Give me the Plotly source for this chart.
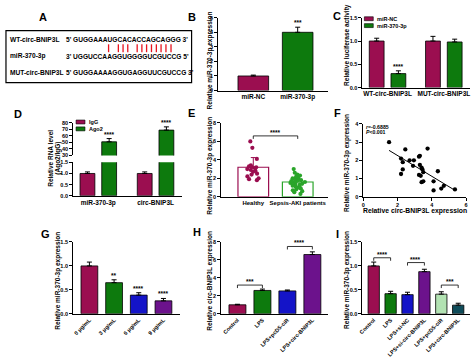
import numpy as np
import plotly.graph_objects as go

W, H = 474, 363
def X(px): return px / W
def Y(py): return 1 - py / H

FONT = "Liberation Sans, Arial, sans-serif"
MAROON = "#9b0e50"
GREEN = "#0d7a0d"
BLUE = "#1414c8"
PURPLE = "#6c128c"
LGREEN = "#b2e2b2"
TEAL = "#0f4c5a"
EGREEN = "#2aa52a"

# ---------------- data ----------------
A_labels = ["WT-circ-BNIP3L", "miR-370-3p", "MUT-circ-BNIP3L"]
A_seqs = ["5' GUGGAAAUGCACACCAGCAGGG 3'",
          "3' UGGUCCAAGGUGGGGUCGUCCG 5'",
          "5' GUGGAAAAGGUGAGGUUCGUCCG 3'"]
A_pairs = [8, 10, 11, 12, 14, 15, 16, 17, 18, 19, 20, 21]

B_cats = ["miR-NC", "miR-370-3p"]
B_vals = [1.0, 4.0]
B_err = [0.06, 0.35]
B_stars = ["", "***"]

C_groups = ["WT-circ-BNIP3L", "MUT-circ-BNIP3L"]
C_nc = [1.0, 1.0]
C_nc_err = [0.06, 0.1]
C_mir = [0.3, 0.98]
C_mir_err = [0.06, 0.06]
C_stars = ["****", ""]

D_groups = ["miR-370-3p", "circ-BNIP3L"]
D_igg = [1.0, 1.0]
D_igg_err = [0.07, 0.07]
D_ago2 = [51, 69]
D_ago2_err = [5, 5]
D_stars = ["****", "****"]

E_cats = ["Healthy", "Sepsis-AKI patients"]
E_means = [3.2, 1.6]
E_sd = [1.05, 0.55]
E_healthy = [6.0, 5.3, 4.1, 3.4, 3.3, 3.2, 3.2, 3.1, 3.0, 2.9, 2.8, 2.7, 2.5, 2.4, 2.2, 2.0, 1.9, 1.8]
E_sepsis = [3.0, 2.6, 2.4, 2.3, 2.2, 2.1, 2.0, 2.0, 1.9, 1.8, 1.8, 1.7, 1.7, 1.6, 1.6,
            1.5, 1.5, 1.4, 1.4, 1.3, 1.2, 1.1, 1.0, 1.0, 0.9, 0.8, 0.7, 0.6, 0.5, 0.3]

F_x = [1.5, 2.45, 3.75, 2.2, 2.3, 2.7, 2.95, 3.25, 3.3, 2.9, 3.3, 3.4, 3.45, 2.3, 2.2,
       3.25, 3.35, 3.5, 4.35, 3.5, 3.4, 4.1, 4.55, 4.7, 4.1, 5.35]
F_y = [3.0, 2.6, 2.65, 2.1, 1.9, 2.0, 2.0, 2.2, 2.25, 1.7, 1.75, 1.6, 1.5, 1.5, 1.25,
       1.2, 1.15, 1.35, 1.4, 0.85, 0.8, 0.85, 0.45, 0.6, 0.35, 0.4]
F_r = "-0.6885"
F_p = "0.001"

G_cats = ["0 μg/mL", "3 μg/mL", "6 μg/mL", "9 μg/mL"]
G_vals = [1.0, 0.65, 0.39, 0.27]
G_err = [0.08, 0.06, 0.05, 0.05]
G_stars = ["", "**", "****", "****"]

H_cats = ["Control", "LPS", "LPS+pcD5-ciR", "LPS+circ-BNIP3L"]
H_vals = [1.0, 2.6, 2.55, 6.6]
H_err = [0.06, 0.15, 0.1, 0.3]
H_brackets = [(0, 1, "***", 3.2), (2, 3, "****", 7.5)]

I_cats = ["Control", "LPS", "LPS+si-NC", "LPS+si-circ-BNIP3L", "LPS+pcD5-ciR", "LPS+circ-BNIP3L"]
I_vals = [1.0, 0.42, 0.40, 0.88, 0.41, 0.18]
I_err = [0.08, 0.05, 0.05, 0.05, 0.05, 0.04]
I_brackets = [(0, 1, "****", 1.17), (2, 3, "****", 1.07), (4, 5, "***", 0.6)]

# ---------------- helpers ----------------
fig = go.Figure()
annotations = []
shapes = []
layout = {}

TICKF = dict(family=FONT, size=5.5, color="black", weight="bold")
AX = dict(showline=True, linecolor="black", linewidth=1, showgrid=False,
          zeroline=False, fixedrange=True, tickcolor="black")
LINE = dict(color="black", width=0.8)


def yaxis(top, bot, rng, dtick, fmt, anchor):
    return dict(domain=[Y(bot), Y(top)], range=rng, dtick=dtick, tick0=0,
                tickformat=fmt, anchor=anchor, ticks="outside", ticklen=3,
                tickwidth=1, tickfont=TICKF, **AX)


def xcat(left, right, rng, anchor, size=7, angle=0):
    return dict(domain=[X(left), X(right)], range=rng, type="category",
                anchor=anchor, ticks="", tickangle=angle,
                tickfont=dict(family=FONT, size=size, color="black", weight="bold"), **AX)


def err(arr, color="black"):
    return dict(type="data", array=arr, arrayminus=[0] * len(arr), symmetric=False,
                color=color, thickness=1, width=2.5)


def text(x, y, t, size=6.5, xref="paper", yref="paper", xanchor="center",
         yanchor="middle", angle=0, color="black", yshift=0):
    annotations.append(dict(x=x, y=y, text=t, xref=xref, yref=yref, showarrow=False,
                            xanchor=xanchor, yanchor=yanchor, textangle=angle,
                            yshift=yshift, borderpad=0,
                            font=dict(family=FONT, size=size, color=color, weight="bold")))


def ylabel(px, py, t, size=6.5):
    text(X(px), Y(py), t, size=size, angle=-90)


def letter(px, py, t):
    text(X(px), Y(py), t, size=11)


def bracket(xr, yr, a, b, level, label, drop=3):
    shapes.append(dict(type="line", xref=xr, yref=yr, x0=a, x1=b, y0=level, y1=level,
                       line=dict(color="black", width=0.8)))
    for p in (a, b):
        shapes.append(dict(type="line", xref=xr, yref=yr, x0=p, x1=p, ysizemode="pixel",
                           yanchor=level, y0=0, y1=-drop, line=dict(color="black", width=0.8)))
    text((a + b) / 2, level, label, size=6.5, xref=xr, yref=yr, yanchor="bottom", yshift=-1)


# ---------------- Panel A ----------------
letter(40, 14, "A")
shapes.append(dict(type="rect", xref="paper", yref="paper", x0=X(2), x1=X(190),
                   y0=Y(81), y1=Y(28), line=dict(color="black", width=1.2)))
A_fs = 6.6
A_rows = [37, 54, 71]
for lab, seq, ry in zip(A_labels, A_seqs, A_rows):
    text(X(5), Y(ry), lab, size=A_fs, xanchor="left")
    text(X(62), Y(ry), seq, size=A_fs, xanchor="left")
CW = {"A": 0.722, "C": 0.722, "G": 0.778, "U": 0.722, "'": 0.238, "5": 0.556, "3": 0.556, " ": 0.278}
s1 = A_seqs[0]
for pos in A_pairs:
    k = 3 + pos - 1
    cx = 62 + A_fs * (sum(CW[c] for c in s1[:k]) + CW[s1[k]] / 2)
    shapes.append(dict(type="line", xref="paper", yref="paper", x0=X(cx), x1=X(cx),
                       y0=Y(50), y1=Y(42), line=dict(color="#e8141e", width=1.3)))

# ---------------- Panel B ----------------
letter(190, 14, "B")
fig.add_trace(go.Bar(x=B_cats, y=B_vals, width=0.69, error_y=err(B_err),
                     marker=dict(color=[MAROON, GREEN], line=LINE), xaxis="x", yaxis="y"))
layout["xaxis"] = xcat(217, 328, [-0.79, 1.68], "y", size=6.5)
layout["yaxis"] = yaxis(15, 89, [0, 5], 1, "d", "x")
for c, v, e, s in zip(B_cats, B_vals, B_err, B_stars):
    if s:
        text(c, v + e, s, xref="x", yref="y", yanchor="bottom")
ylabel(209, 58, "Relative miR-370-3p expression")

# ---------------- Panel C ----------------
letter(337, 13, "C")
C_w, C_off = 0.263, [-0.325, 0.061]
fig.add_trace(go.Bar(x=C_groups, y=C_nc, width=C_w, offset=C_off[0], error_y=err(C_nc_err),
                     marker=dict(color=MAROON, line=LINE), xaxis="x2", yaxis="y2"))
fig.add_trace(go.Bar(x=C_groups, y=C_mir, width=C_w, offset=C_off[1], error_y=err(C_mir_err),
                     marker=dict(color=GREEN, line=LINE), xaxis="x2", yaxis="y2"))
layout["xaxis2"] = xcat(363, 472, [-0.447, 1.465], "y2", size=6.5)
layout["yaxis2"] = yaxis(15, 86, [0, 1.5], 0.5, ".1f", "x2")
for i, (v, e, s) in enumerate(zip(C_mir, C_mir_err, C_stars)):
    if s:
        text(i + C_off[1] + C_w / 2, v + e, s, xref="x2", yref="y2", yanchor="bottom")
ylabel(348, 43, "Relative luciferase activity")
for (lab, col), ly in zip([("miR-NC", MAROON), ("miR-370-3p", GREEN)], [16, 23]):
    shapes.append(dict(type="rect", xref="paper", yref="paper", x0=X(365), x1=X(374),
                       y0=Y(ly + 2), y1=Y(ly - 2), fillcolor=col, line=dict(color="black", width=0.6)))
    text(X(377), Y(ly), lab, size=5.5, xanchor="left")

# ---------------- Panel D (broken axis) ----------------
letter(14, 113, "D")
D_w, D_off = 0.259, [-0.319, 0.060]
for xa, ya in (("x3", "y3"), ("x4", "y4")):
    fig.add_trace(go.Bar(x=D_groups, y=D_igg, width=D_w, offset=D_off[0], error_y=err(D_igg_err),
                         marker=dict(color=MAROON, line=LINE), xaxis=xa, yaxis=ya))
    fig.add_trace(go.Bar(x=D_groups, y=D_ago2, width=D_w, offset=D_off[1], error_y=err(D_ago2_err),
                         marker=dict(color=GREEN, line=LINE), xaxis=xa, yaxis=ya))
layout["xaxis3"] = xcat(70, 180, [-0.44, 1.457], "y3", size=6.5)
layout["yaxis3"] = yaxis(162, 196, [0, 1.5], 0.5, ".1f", "x3")
x4 = xcat(70, 180, [-0.44, 1.457], "y4")
x4.update(showline=False, showticklabels=False)
layout["xaxis4"] = x4
layout["yaxis4"] = yaxis(122, 155, [30, 80], 10, "d", "x4")
for i, (v, e, s) in enumerate(zip(D_ago2, D_ago2_err, D_stars)):
    text(i + D_off[1] + D_w / 2, v + e, s, xref="x4", yref="y4", yanchor="bottom")
text(X(47), Y(158), "Relative RNA level", size=6.5, angle=-90)
text(X(55), Y(158), "(Ago2/IgG)", size=6.5, angle=-90)
for (lab, col), ly in zip([("IgG", MAROON), ("Ago2", GREEN)], [121, 128]):
    shapes.append(dict(type="rect", xref="paper", yref="paper", x0=X(73), x1=X(82),
                       y0=Y(ly + 2), y1=Y(ly - 2), fillcolor=col, line=dict(color="black", width=0.6)))
    text(X(85), Y(ly), lab, size=5.5, xanchor="left")

# ---------------- Panel E ----------------
letter(190, 112, "E")
for c, m, s, col in zip(E_cats, E_means, E_sd, [MAROON, EGREEN]):
    fig.add_trace(go.Bar(x=[c], y=[m], width=0.69, error_y=err([s], col),
                         marker=dict(color="rgba(255,255,255,0)", line=dict(color=col, width=1.2)),
                         xaxis="x5", yaxis="y5"))
for c, vals, col in zip(E_cats, [E_healthy, E_sepsis], [MAROON, EGREEN]):
    fig.add_trace(go.Box(x=[c] * len(vals), y=vals, boxpoints="all", jitter=0.75, pointpos=0,
                         fillcolor="rgba(0,0,0,0)", line=dict(width=0, color="rgba(0,0,0,0)"),
                         whiskerwidth=0, marker=dict(color=col, size=4.2),
                         xaxis="x5", yaxis="y5"))
layout["xaxis5"] = xcat(220, 328, [-0.722, 1.678], "y5", size=6)
layout["yaxis5"] = yaxis(122, 197, [0, 8], 2, "d", "x5")
bracket("x5", "y5", 0, 1, 6.6, "****")
ylabel(209, 165, "Relative miR-370-3p expression")

# ---------------- Panel F ----------------
letter(338, 112, "F")
fig.add_trace(go.Scatter(x=F_x, y=F_y, mode="markers", marker=dict(color="black", size=4.3),
                         xaxis="x6", yaxis="y6"))
slope, icpt = np.polyfit(F_x, F_y, 1)
fx = [min(F_x), max(F_x)]
fig.add_trace(go.Scatter(x=fx, y=[slope * v + icpt for v in fx], mode="lines",
                         line=dict(color="black", width=1), xaxis="x6", yaxis="y6"))
layout["xaxis6"] = dict(domain=[X(364), X(468)], range=[0, 6], dtick=2, tick0=0, anchor="y6",
                        ticks="outside", ticklen=3, tickwidth=1, tickfont=TICKF, **AX)
layout["yaxis6"] = yaxis(123, 197, [0, 4], 1, "d", "x6")
text(X(366), Y(126), "<i>r</i>=" + F_r, size=5.2, xanchor="left")
text(X(366), Y(131.5), "<i>P</i>&lt;" + F_p, size=5.2, xanchor="left")
text(X(416), Y(212), "Relative circ-BNIP3L expression", size=6.8)
ylabel(348, 163, "Relative miR-370-3p expression")

# ---------------- Panel G ----------------
letter(42, 235, "G")
fig.add_trace(go.Bar(x=G_cats, y=G_vals, width=0.68, error_y=err(G_err),
                     marker=dict(color=[MAROON, GREEN, BLUE, PURPLE], line=LINE),
                     xaxis="x7", yaxis="y7"))
layout["xaxis7"] = xcat(70, 178, [-0.66, 3.66], "y7", size=5.5, angle=-45)
layout["yaxis7"] = yaxis(243, 316, [0, 1.5], 0.5, ".1f", "x7")
for c, v, e, s in zip(G_cats, G_vals, G_err, G_stars):
    if s:
        text(c, v + e, s, xref="x7", yref="y7", yanchor="bottom")
ylabel(55, 282, "Relative miR-370-3p expression")

# ---------------- Panel H ----------------
letter(195, 233, "H")
fig.add_trace(go.Bar(x=H_cats, y=H_vals, width=0.68, error_y=err(H_err),
                     marker=dict(color=[MAROON, GREEN, BLUE, PURPLE], line=LINE),
                     xaxis="x8", yaxis="y8"))
layout["xaxis8"] = xcat(220, 328, [-0.65, 3.62], "y8", size=5.5, angle=-45)
layout["yaxis8"] = yaxis(243, 316, [0, 8], 2, "d", "x8")
for a, b, s, lv in H_brackets:
    bracket("x8", "y8", a, b, lv, s)
ylabel(209, 282, "Relative circ-BNIP3L expression")

# ---------------- Panel I ----------------
letter(338, 235, "I")
fig.add_trace(go.Bar(x=I_cats, y=I_vals, width=0.67, error_y=err(I_err),
                     marker=dict(color=[MAROON, GREEN, BLUE, PURPLE, LGREEN, TEAL], line=LINE),
                     xaxis="x9", yaxis="y9"))
layout["xaxis9"] = xcat(363, 472, [-0.67, 5.7], "y9", size=5.5, angle=-45)
layout["yaxis9"] = yaxis(243, 316, [0, 1.5], 0.5, ".1f", "x9")
for a, b, s, lv in I_brackets:
    bracket("x9", "y9", a, b, lv, s)
ylabel(348, 282, "Relative miR-370-3p expression")

fig.update_layout(
    width=W, height=H, margin=dict(l=0, r=0, t=0, b=0),
    paper_bgcolor="white", plot_bgcolor="white", showlegend=False,
    barmode="overlay", hovermode=False, font=dict(family=FONT, color="black"),
    annotations=annotations, shapes=shapes, **layout)
fig.write_html("out.html", config={"displayModeBar": False, "staticPlot": True},
               post_script="document.body.style.margin='0';")
